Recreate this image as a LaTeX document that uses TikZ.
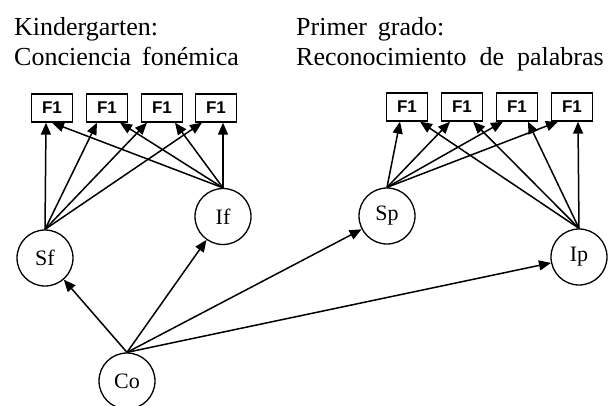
\documentclass[tikz,border=0pt]{standalone}
\usepackage{fontspec}
\setmainfont{Liberation Serif}
\newfontfamily\boxfont{Liberation Sans}
\usetikzlibrary{arrows.meta,calc}
\begin{document}
\begin{tikzpicture}[x=1pt,y=-1pt,
  latent/.style={draw,circle,line width=1.3pt,minimum size=56pt,inner sep=0pt,font=\fontsize{22}{24}\selectfont},
  indic/.style={draw,line width=1.3pt,minimum width=41pt,minimum height=28pt,inner sep=0pt,font=\boxfont\bfseries\fontsize{17}{19}\selectfont},
  edge/.style={line width=1.5pt,-{Triangle[length=12pt,width=10pt]}},
  title/.style={anchor=base west,inner sep=0pt,font=\fontsize{26}{30}\selectfont}]
\useasboundingbox (0,0) rectangle (608,405);
\clip (0,0) rectangle (608,405);
% titles
\node[title] (t1) at (14,35) {Kindergarten:};
\node[title] (t2) at (14,65) {Conciencia\hspace{11pt}fonémica};
\node[title] (t3) at (296,35) {Primer\hspace{11pt}grado:};
\node[title] (t4) at (296,65) {Reconocimiento\hspace{13pt}de\hspace{13pt}palabras};
% boxes
\node[indic] (a1) at (52,108) {F1};
\node[indic] (a2) at (107,108) {F1};
\node[indic] (a3) at (162,108) {F1};
\node[indic] (a4) at (216,108) {F1};
\node[indic] (b1) at (407,107) {F1};
\node[indic] (b2) at (462,107) {F1};
\node[indic] (b3) at (517,107) {F1};
\node[indic] (b4) at (572,107) {F1};
% circles
\node[latent] (sf) at (45,258) {Sf};
\node[latent] (if) at (223,216.5) {If};
\node[latent] (sp) at (387,216) {Sp};
\node[latent] (ip) at (579,257) {Ip};
\node[latent] (co) at (127,381) {Co};
% Sf -> boxes
\draw[edge] (sf.north) -- ([xshift=-6pt]a1.south);
\draw[edge] (sf.north) -- ([xshift=-10pt]a2.south);
\draw[edge] (sf.north) -- ([xshift=-15pt]a3.south);
\draw[edge] (sf.north) -- ([xshift=-14pt]a4.south);
% If -> boxes
\draw[edge] (if.north) -- ([xshift=0pt]a1.south);
\draw[edge] (if.north) -- ([xshift=13pt]a2.south);
\draw[edge] (if.north) -- ([xshift=13pt]a3.south);
\draw[edge] (if.north) -- ([xshift=7pt]a4.south);
% Sp -> boxes
\draw[edge] (sp.north) -- ([xshift=-7pt]b1.south);
\draw[edge] (sp.north) -- ([xshift=-12pt]b2.south);
\draw[edge] (sp.north) -- ([xshift=-14pt]b3.south);
\draw[edge] (sp.north) -- ([xshift=-14pt]b4.south);
% Ip -> boxes
\draw[edge] (ip.north) -- ([xshift=13pt]b1.south);
\draw[edge] (ip.north) -- ([xshift=11pt]b2.south);
\draw[edge] (ip.north) -- ([xshift=11pt]b3.south);
\draw[edge] (ip.north) -- ([xshift=6pt]b4.south);
% Co -> latents
\draw[edge] (co.north) -- (sf);
\draw[edge] (co.north) -- (if);
\draw[edge] (co.north) -- (sp);
\draw[edge] (co.north) -- (ip);
\end{tikzpicture}
\end{document}
